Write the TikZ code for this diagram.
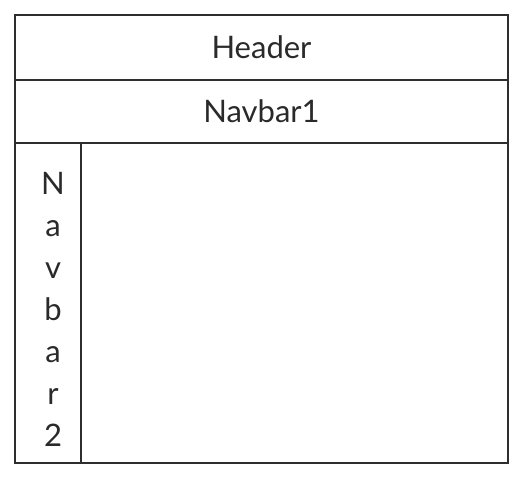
\documentclass[tikz,border=0pt]{standalone}
\usepackage{fontspec}
\setmainfont{Lato}
\usetikzlibrary{positioning}
\definecolor{linegray}{HTML}{2E2E2E}
\definecolor{textgray}{HTML}{2A2A2A}

\begin{document}
\begin{tikzpicture}[x=1pt,y=-1pt,
    box/.style={draw=linegray,line width=2pt,rectangle,inner sep=0pt,outer sep=0pt,
                text=textgray,font=\fontsize{31}{42}\selectfont}]
    \useasboundingbox (0,0) rectangle (525,480);
    \node[box,minimum width=493pt,minimum height=65pt,anchor=north west] (header) at (15,15) {Header};
    \node[box,minimum width=493pt,minimum height=63pt,below=0pt of header] (nav1) {Navbar1};
    \node[box,minimum width=66pt,minimum height=320pt,anchor=north west] (nav2)    at (nav1.south west) {};
    \node[box,minimum width=427pt,minimum height=320pt,anchor=north west] (content) at (nav2.north east) {};
    \node[text=textgray,font=\fontsize{31}{42}\selectfont,align=center,inner sep=0pt,
          xshift=5pt,yshift=-6.5pt] (nav2text) at (nav2.center) {N\\a\\v\\b\\a\\r\\2};
\end{tikzpicture}
\end{document}
